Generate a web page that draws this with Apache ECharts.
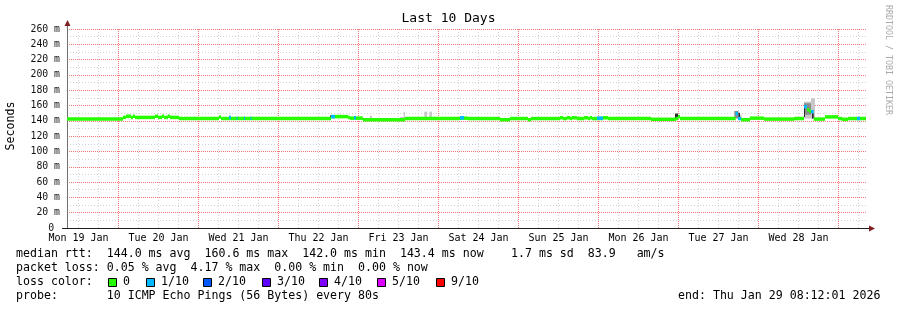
<!DOCTYPE html>
<html>
<head>
<meta charset="utf-8">
<script src="https://cdn.jsdelivr.net/npm/echarts@6/dist/echarts.min.js"></script>
<style>
  html, body { margin: 0; padding: 0; background: #fff; }
  #chart { width: 897px; height: 310px; }
</style>
</head>
<body>
<div id="chart"></div>
<script>
// x values are hours counted from Mon 19 Jan 00:00
const startHour = 8.55   // left edge of the plot
const endHour = 248.55   // right edge, Thu 29 Jan ~08:30

const dayLabels = ['Mon 19 Jan', 'Tue 20 Jan', 'Wed 21 Jan', 'Thu 22 Jan', 'Fri 23 Jan',
  'Sat 24 Jan', 'Sun 25 Jan', 'Mon 26 Jan', 'Tue 27 Jan', 'Wed 28 Jan']
const dayLabelHours = [12, 36, 60, 84, 108, 132, 156, 180, 204, 228]
const midnightHours = [24, 48, 72, 96, 120, 144, 168, 192, 216, 240]
const sixHourHours = [12, 18, 30, 36, 42, 54, 60, 66, 78, 84, 90, 102, 108, 114, 126, 132, 138,
  150, 156, 162, 174, 180, 186, 198, 204, 210, 222, 228, 234, 246]

const lossColors = ['#26ff00', '#00b8ff', '#0059ff', '#5e00ff', '#7e00ff', '#dd00ff', '#ff0000']
const lossLabels = ['0', '1/10', '2/10', '3/10', '4/10', '5/10', '9/10']
const smokeShades = ['#c8c8c8', '#8c8c8c', '#2a2a2a']

// median rtt, [from hour, to hour, ms] (no loss)
const medianSegs = [
  [8.55, 25.35, 142.5], [25.35, 26.25, 144.5], [26.25, 27.75, 146], [27.75, 28.35, 144.5],
  [28.35, 28.95, 146], [28.95, 34.95, 144.5], [34.95, 35.85, 146], [35.85, 37.05, 144.5],
  [37.05, 37.65, 146], [37.65, 38.85, 144.5], [38.85, 39.45, 146], [39.45, 42.15, 144.5],
  [42.15, 54.15, 143], [54.15, 54.75, 145], [54.75, 87.75, 143], [87.75, 92.85, 145.5],
  [92.85, 93.45, 144.5], [93.45, 97.35, 143.5], [97.35, 109.95, 141.5], [109.95, 126.45, 143],
  [126.45, 128.85, 143.5], [128.85, 138.45, 143], [138.45, 141.45, 141.5], [141.45, 146.85, 143],
  [146.85, 147.75, 141.5], [147.75, 156.45, 143], [156.45, 157.35, 144], [157.35, 158.55, 143],
  [158.55, 159.45, 144], [159.45, 160.05, 143], [160.05, 161.55, 144], [161.55, 163.65, 143],
  [163.65, 164.85, 144], [164.85, 165.45, 143], [165.45, 166.05, 144], [166.05, 169.35, 143],
  [169.35, 170.85, 144], [170.85, 183.75, 143], [183.75, 191.25, 142], [191.25, 191.85, 143],
  [191.85, 192.45, 145.5], [192.45, 209.15, 143], [210.75, 213.45, 141.5], [213.45, 217.65, 143.5],
  [217.65, 226.65, 142.3], [226.65, 229.65, 143], [230.55, 231.15, 154.5], [231.15, 231.75, 153],
  [232.55, 235.95, 142.3], [235.95, 239.85, 145.2], [239.85, 241.05, 143], [241.05, 242.85, 142],
  [242.85, 248.25, 143]
]

// median rtt with packet loss, [from hour, to hour, ms, loss level]
const lossSegs = [
  [57.15, 57.75, 144.5, 1], [59.4, 59.7, 143.5, 1], [61.65, 61.95, 143.5, 1],
  [63.6, 63.9, 143.5, 1], [87.75, 88.95, 145.5, 1], [94.65, 95.25, 144, 1],
  [126.45, 127.65, 144, 1], [167.55, 169.35, 143.5, 1], [209.15, 209.85, 149.5, 1],
  [209.85, 210.75, 143, 1], [229.65, 230.55, 158.5, 1], [231.75, 232.55, 152, 1],
  [245.55, 246.45, 143, 1]
]

// ping spread (smoke), [from hour, to hour, low ms, high ms, shade]
const smokeSegs = [
  [87.45, 87.75, 144, 147, 2], [89.85, 91.05, 145.5, 148, 0], [99.45, 100.05, 143, 146.5, 0],
  [108.45, 109.95, 143, 145, 0], [109.55, 109.95, 143, 151.5, 0], [115.75, 116.55, 143, 152, 0],
  [117.25, 118.05, 143, 152, 0], [190.95, 191.85, 143, 149.5, 2], [208.75, 209.95, 143, 153, 1],
  [209.95, 210.45, 143, 150.5, 2], [210.45, 210.95, 142, 148, 0], [229.65, 232.55, 143, 165, 0],
  [231.75, 232.95, 143, 169.5, 0], [229.65, 231.75, 148, 163, 1], [229.65, 229.95, 145, 160, 2],
  [232.05, 232.55, 143, 150, 2]
]

const mono = 'DejaVu Sans Mono'
const pink = '#f07878'
const grey = '#d2d2d2'

const chart = echarts.init(document.getElementById('chart'))

function bandItem(params, api, fill) {
  const a = api.coord([api.value(0), api.value(2)])
  const b = api.coord([api.value(1), api.value(2)])
  return {
    type: 'rect',
    shape: { x: a[0], y: a[1] - 1.75, width: b[0] - a[0], height: 3.5 },
    style: { fill: fill }
  }
}

function txt(x, y, text, size, align, extra) {
  return Object.assign({
    type: 'text', x: x, y: y,
    style: { text: text, fontFamily: mono, fontSize: size || 11.6, fill: '#000',
      align: align || 'left', verticalAlign: 'middle',
      textAlign: align || 'left', textVerticalAlign: 'middle' }
  }, extra || {})
}

const watermark = txt(888, 60, 'RRDTOOL / TOBI OETIKER', 8.3, 'center', { rotation: -Math.PI / 2 })
watermark.style.fill = '#aaaaaa'

const graphics = [
  txt(448.5, 19, 'Last 10 Days', 13, 'center'),
  txt(11, 126, 'Seconds', 11.6, 'center', { rotation: Math.PI / 2 }),
  watermark,
  // axis arrows
  { type: 'polygon', shape: { points: [[67.5, 20], [64.5, 26], [70.5, 26]] }, style: { fill: '#801f1f' } },
  { type: 'polygon', shape: { points: [[875, 228.5], [869, 225.5], [869, 231.5]] }, style: { fill: '#801f1f' } },
  { type: 'line', shape: { x1: 67.5, y1: 26, x2: 67.5, y2: 29 }, style: { stroke: '#707070', lineWidth: 1 } },
  { type: 'line', shape: { x1: 62, y1: 228.5, x2: 869, y2: 228.5 }, style: { stroke: '#1f1f1f', lineWidth: 1 } },
  // legend
  txt(16, 254, 'median rtt:  144.0 ms avg  160.6 ms max  142.0 ms min  143.4 ms now'),
  txt(511, 254, '1.7 ms sd  83.9   am/s'),
  txt(16, 268, 'packet loss: 0.05 % avg  4.17 % max  0.00 % min  0.00 % now'),
  txt(16, 282, 'loss color:'),
  txt(16, 296, 'probe:       10 ICMP Echo Pings (56 Bytes) every 80s'),
  txt(678, 296, 'end: Thu Jan 29 08:12:01 2026')
]
const swatchX = [108.5, 146.5, 203.5, 262.5, 319.5, 377.5, 436.5]
lossColors.forEach((c, i) => {
  graphics.push({ type: 'rect', shape: { x: swatchX[i], y: 278.5, width: 8, height: 8 },
    style: { fill: c, stroke: '#000', lineWidth: 1 } })
  graphics.push(txt(swatchX[i] + 14.5, 282, lossLabels[i]))
})

// vertical grid as [hour, 0 = six hour line / 1 = midnight line]
const vGrid = sixHourHours.map(h => [h, 0]).concat(midnightHours.map(h => [h, 1]))

chart.setOption({
  animation: false,
  backgroundColor: '#fff',
  grid: { left: 67, top: 29, width: 800, height: 199, containLabel: false, outerBoundsMode: 'none' },
  xAxis: {
    type: 'value', min: startHour, max: endHour,
    axisLine: { show: true, lineStyle: { color: '#1f1f1f', width: 1 } },
    axisTick: { show: false },
    axisLabel: {
      customValues: dayLabelHours,
      formatter: v => dayLabels[dayLabelHours.indexOf(v)] || '',
      fontFamily: mono, fontSize: 10, color: '#000', margin: 5
    },
    splitLine: { show: false }
  },
  yAxis: {
    type: 'value', min: 0, max: 260, interval: 20,
    axisLine: { show: true, lineStyle: { color: '#707070', width: 1 } },
    axisTick: { show: false },
    axisLabel: { formatter: v => (v === 0 ? '0 ' : v + ' m'), fontFamily: mono, fontSize: 9.8, color: '#111', margin: 7 },
    splitLine: { show: true, lineStyle: { color: pink, width: 1, type: [1, 1] } },
    minorTick: { show: false, splitNumber: 2 },
    minorSplitLine: { show: true, lineStyle: { color: grey, width: 1, type: [1, 2] } }
  },
  series: [
    {
      type: 'custom', name: 'vgrid', data: vGrid, z: 1, silent: true,
      encode: { x: 0 },
      renderItem: (params, api) => {
        const top = api.coord([api.value(0), 260])
        const bottom = api.coord([api.value(0), 0])
        return { type: 'line', shape: { x1: top[0], y1: top[1], x2: bottom[0], y2: bottom[1] },
          style: { stroke: api.value(1) ? pink : grey, lineWidth: 1, lineDash: api.value(1) ? [1, 1] : [1, 2] } }
      }
    },
    {
      type: 'custom', name: 'smoke', data: smokeSegs, z: 3,
      encode: { x: [0, 1], y: [2, 3] },
      renderItem: (params, api) => {
        const a = api.coord([api.value(0), api.value(3)])
        const b = api.coord([api.value(1), api.value(2)])
        return { type: 'rect', shape: { x: a[0], y: a[1], width: b[0] - a[0], height: b[1] - a[1] },
          style: { fill: smokeShades[api.value(4)] } }
      }
    },
    {
      type: 'custom', name: 'median', data: medianSegs, z: 3,
      encode: { x: [0, 1], y: 2 },
      renderItem: (params, api) => bandItem(params, api, lossColors[0])
    },
    {
      type: 'custom', name: 'loss', data: lossSegs, z: 3,
      encode: { x: [0, 1], y: 2 },
      renderItem: (params, api) => bandItem(params, api, lossColors[api.value(3)])
    }
  ],
  graphic: graphics
})
</script>
</body>
</html>
